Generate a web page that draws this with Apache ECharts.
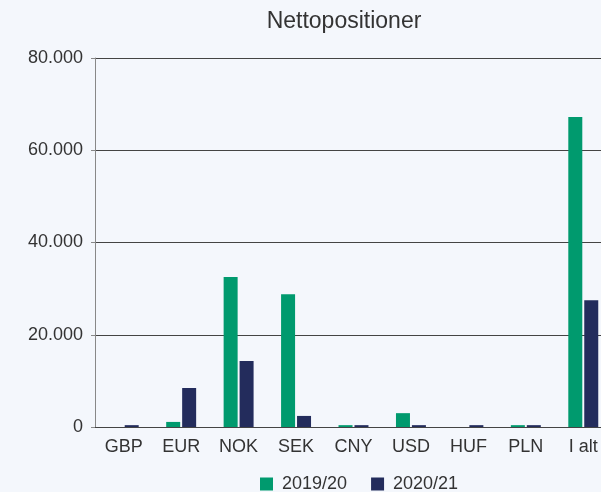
<!DOCTYPE html>
<html>
<head>
<meta charset="utf-8">
<script src="https://cdn.jsdelivr.net/npm/echarts@6/dist/echarts.min.js"></script>
<style>
  html, body { margin: 0; padding: 0; background: #f4f7fc; }
  #chart { width: 601px; height: 492px; }
</style>
</head>
<body>
<div id="chart"></div>
<script>
const categories = ['GBP', 'EUR', 'NOK', 'SEK', 'CNY', 'USD', 'HUF', 'PLN', 'I alt']
const values1920 = [0, 1100, 32500, 28800, 400, 3000, 0, 400, 67200]
const values2021 = [400, 8450, 14300, 2400, 400, 400, 400, 400, 27500]
const yTicks = [0, 20000, 40000, 60000, 80000]

const fontFamily = '"Liberation Sans", Arial, sans-serif'
const fmt = (v) => v === 0 ? '0' : v.toLocaleString('de-DE')

const chart = echarts.init(document.getElementById('chart'))
chart.setOption({
  backgroundColor: '#f4f7fc',
  animation: false,
  textStyle: { fontFamily },
  title: {
    text: 'Nettopositioner',
    left: 339,
    textAlign: 'center',
    top: 5,
    textStyle: { color: '#333', fontSize: 23, fontWeight: 'normal', fontFamily }
  },
  grid: {
    left: 95,
    width: 517,
    top: 58,
    height: 369,
    outerBoundsMode: 'none',
    containLabel: false
  },
  legend: {
    top: 475,
    left: 260,
    itemWidth: 13,
    itemHeight: 13,
    itemGap: 24,
    icon: 'rect',
    padding: 0,
    textStyle: { color: '#333', fontSize: 18, fontFamily, padding: [0, 0, 0, 4] },
    data: ['2019/20', '2020/21']
  },
  xAxis: {
    type: 'category',
    data: categories,
    axisTick: { show: false },
    axisLine: { show: true, lineStyle: { color: '#444', width: 1 } },
    axisLabel: { color: '#333', fontSize: 18, margin: 11, fontFamily }
  },
  yAxis: {
    type: 'value',
    min: yTicks[0],
    max: yTicks[yTicks.length - 1],
    interval: 20000,
    axisLine: { show: true, lineStyle: { color: '#888', width: 1 } },
    axisTick: { show: true, length: 4, lineStyle: { color: '#888' } },
    axisLabel: { color: '#333', fontSize: 18, margin: 12, formatter: fmt, fontFamily },
    splitLine: { show: true, lineStyle: { color: '#444', width: 1 } }
  },
  series: [
    {
      type: 'bar',
      name: '2019/20',
      data: values1920,
      barWidth: 14,
      barGap: '14%',
      itemStyle: { color: '#009a6e' }
    },
    {
      type: 'bar',
      name: '2020/21',
      data: values2021,
      barWidth: 14,
      itemStyle: { color: '#232c5c' }
    }
  ]
})
</script>
</body>
</html>
